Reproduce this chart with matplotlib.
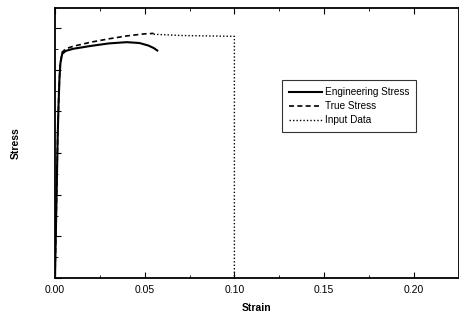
import matplotlib
matplotlib.use("Agg")
import matplotlib.pyplot as plt
from matplotlib.ticker import MultipleLocator, NullFormatter

plt.rcParams['font.family'] = ['Liberation Sans', 'DejaVu Sans']

# Engineering stress curve
eng_strain = [0.0, 0.0008, 0.0015, 0.002, 0.0025, 0.003, 0.004, 0.006, 0.01, 0.02, 0.03, 0.04, 0.047, 0.052, 0.055, 0.057]
eng_stress = [0.0, 1.8, 3.4, 4.2, 4.8, 5.15, 5.38, 5.45, 5.50, 5.57, 5.63, 5.66, 5.64, 5.58, 5.52, 5.46]

# True stress curve
true_strain = [0.0, 0.0008, 0.0015, 0.002, 0.0025, 0.003, 0.004, 0.006, 0.01, 0.02, 0.03, 0.04, 0.05, 0.055]
true_stress = [0.0, 1.8, 3.4, 4.2, 4.8, 5.17, 5.42, 5.50, 5.56, 5.66, 5.74, 5.81, 5.86, 5.87]

# Input data
input_strain = [0.055, 0.07, 0.085, 0.10, 0.10]
input_stress = [5.85, 5.82, 5.81, 5.80, 0.0]

fig = plt.figure(figsize=(4.59, 3.2), dpi=100)
ax = fig.add_axes([55/459, 42/320, 403.6/459, 270/320])

ax.plot(eng_strain, eng_stress, color='black', lw=1.5, ls='-', label='Engineering Stress')
ax.plot(true_strain, true_stress, color='black', lw=1.2, ls=(0, (3, 2)), label='True Stress')
ax.plot(input_strain, input_stress, color='black', lw=1.0, ls=(0, (1, 1.5)), label='Input Data')

ax.set_xlim(0, 0.225)
ax.set_ylim(0, 6.48)
ax.xaxis.set_major_locator(MultipleLocator(0.05))
ax.xaxis.set_minor_locator(MultipleLocator(0.025))
ax.yaxis.set_major_locator(MultipleLocator(1.0))
ax.yaxis.set_minor_locator(MultipleLocator(0.5))
ax.yaxis.set_major_formatter(NullFormatter())
ax.set_xticks([0.0, 0.05, 0.10, 0.15, 0.20])
ax.set_xticklabels(['0.00', '0.05', '0.10', '0.15', '0.20'])
ax.tick_params(which='both', direction='in', top=True, right=False, labelsize=7.5)
ax.tick_params(which='major', length=4, pad=5)
ax.tick_params(which='minor', length=2)
for s in ax.spines.values():
    s.set_linewidth(1.3)

ax.set_xlabel('Strain', fontsize=7.5, fontweight='bold', labelpad=6)
ax.set_ylabel('Stress', fontsize=7.5, fontweight='bold', labelpad=20)

leg = ax.legend(loc='upper left', bbox_to_anchor=(222/403.6, 1 - 67/270), fontsize=7.2,
                frameon=True, fancybox=False, edgecolor='black', handlelength=3.3,
                handletextpad=0.3, borderpad=0.7, labelspacing=0.4)
leg.get_frame().set_linewidth(0.8)

fig.savefig('out.png', dpi=100)
